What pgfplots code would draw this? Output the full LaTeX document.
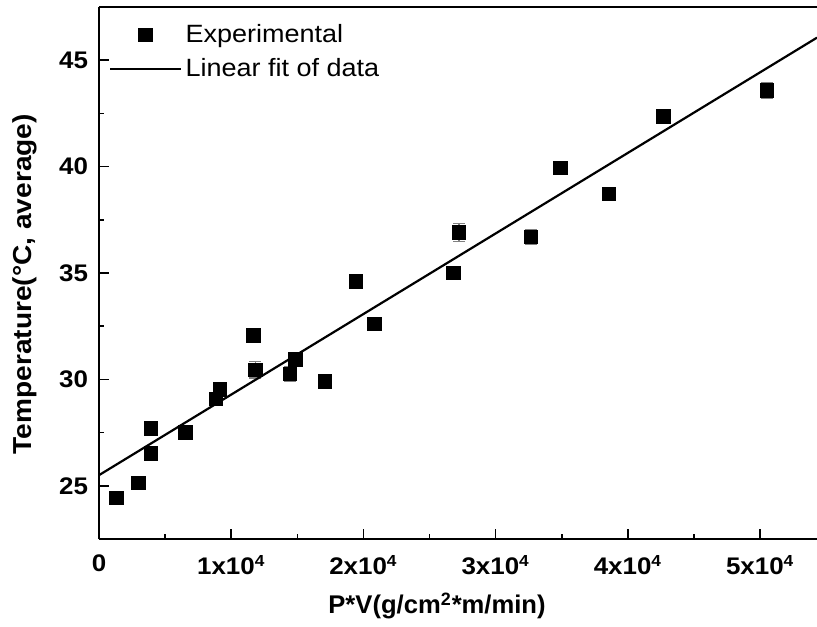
\documentclass[border=0pt]{standalone}
\usepackage{pgfplots}
\pgfplotsset{compat=1.18}
\usepackage{pgfplotstable}
\usepackage{fontspec}
\setmainfont{Liberation Sans}
\newfontfamily\widefont[FakeStretch=1.08]{Liberation Sans}

\pgfplotstableread{
x y e
1335 24.43 0
2975 25.14 0
3910 27.70 0
3935 26.53 0
6555 27.50 0
8850 29.08 0
9150 29.54 0.2
11670 32.06 0
11830 30.45 0.38
14450 30.26 0.36
14850 30.95 0
17090 29.90 0
19440 34.60 0
20830 32.61 0
26800 35.00 0
27230 36.91 0.42
32650 36.69 0.36
34900 39.93 0
38550 38.72 0
42690 42.35 0
50500 43.58 0.38
}\expdata

\begin{document}
\begin{tikzpicture}
\begin{axis}[
  scale only axis,
  width=359pt, height=266pt,
  xmin=0, xmax=54300,
  ymin=22.5, ymax=47.5,
  axis x line*=box,
  axis y line*=left,
  axis line style={line width=1pt},
  scaled x ticks=false,
  xtick={0,10000,20000,30000,40000,50000},
  xticklabels={0,1x10\textsuperscript{4},2x10\textsuperscript{4},3x10\textsuperscript{4},4x10\textsuperscript{4},5x10\textsuperscript{4}},
  ytick={25,30,35,40,45},
  minor tick num=1,
  tick align=inside,
  xtick pos=bottom, ytick pos=left,
  major tick length=5pt, minor tick length=2.5pt,
  tick style={line width=0.8pt, black},
  /pgf/number format/assume math mode=true,
  ticklabel style={font=\widefont\fontsize{12}{13}\selectfont\bfseries},
  xticklabel style={yshift=-4.5pt},
  yticklabel style={xshift=-2pt},
  xlabel={P*V(g/cm\textsuperscript{2}*m/min)},
  ylabel={Temperature(°C, average)},
  xlabel style={font=\fontsize{12.8}{14}\selectfont\bfseries, at={(axis description cs:0.4708,0)}, anchor=center, yshift=-33.5pt},
  ylabel style={font=\widefont\fontsize{13}{14}\selectfont\bfseries, at={(axis description cs:-0.1031,0.479)}, anchor=center},
  legend style={at={(axis description cs:0,1)}, anchor=north west, draw=none, fill=none,
    font=\widefont\fontsize{12.5}{13}\selectfont, row sep=2.5pt, xshift=2pt, yshift=-4.5pt},
  legend cell align=left,
  legend image code/.code={\draw[mark repeat=2,mark phase=2,#1] plot coordinates {(0pt,0pt) (17.5pt,0pt) (35pt,0pt)};},
  clip=true,
]
\addplot[only marks, mark=square*, mark size=3.4pt, black,
  error bars/.cd, y dir=both, y explicit,
  error bar style={gray, line width=0.6pt},
  error mark options={rotate=90, mark size=3pt, gray, line width=0.6pt}]
  table[x=x, y=y, y error=e] {\expdata};
\addlegendentry{Experimental}
\addplot[black, line width=1.1pt] coordinates {(0,25.5) (54300,46.06)};
\addlegendentry{Linear fit of data}
\end{axis}
\pgfresetboundingbox
\path (-49.5pt,-43.5pt) rectangle (359pt,269.5pt);
\end{tikzpicture}
\end{document}
